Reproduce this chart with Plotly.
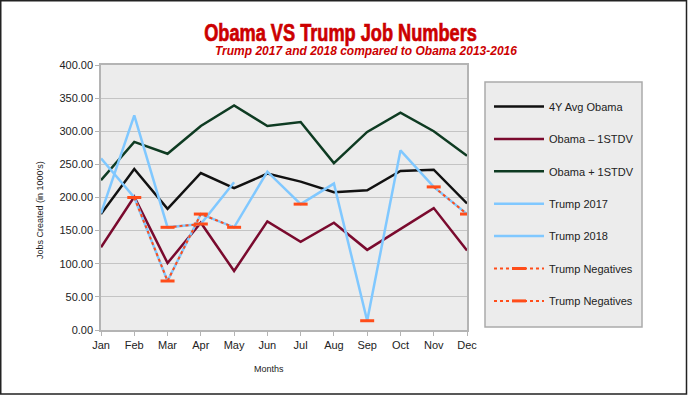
import plotly.graph_objects as go

months = ["Jan", "Feb", "Mar", "Apr", "May", "Jun", "Jul", "Aug", "Sep", "Oct", "Nov", "Dec"]
avg_obama = [175, 243, 183, 237, 214, 236, 224, 208, 211, 240, 242, 191]
obama_minus = [125, 201, 101, 162, 89, 164, 133, 162, 121, 152, 184, 120]
obama_plus = [226, 284, 266, 308, 339, 308, 314, 252, 299, 328, 300, 263]
trump_2017 = [259, 200, 74, 175, 155, 239, 190, 221, 14, 271, 216, 175]
trump_2018 = [176, 324, 155, 160, 223, None, None, None, None, None, None, None]
neg_2017 = [None, 200, 74, 175, 155, None, 190, None, 14, None, 216, 175]
neg_2018 = [None, None, 155, 160, None, None, None, None, None, None, None, None]
y_ticks = [0, 50, 100, 150, 200, 250, 300, 350, 400]

W, H = 688, 395
L, R, T, B = 101, 467, 65, 330
pw, ph = R - L, B - T

def px(x):
    return (x - L) / pw

def py(y):
    return (B - y) / ph

BLUE = "#80c8ff"
NEG = "#ff4d1a"

fig = go.Figure()
fig.add_trace(go.Scatter(x=months, y=avg_obama, name="4Y Avg Obama", mode="lines",
                         line=dict(color="#111111", width=2.5), legendgroup="a"))
fig.add_trace(go.Scatter(x=months, y=obama_minus, name="Obama \u2013 1STDV", mode="lines",
                         line=dict(color="#7a0a2e", width=2.5), legendgroup="b"))
fig.add_trace(go.Scatter(x=months, y=obama_plus, name="Obama + 1STDV", mode="lines",
                         line=dict(color="#0e3b22", width=2.5), legendgroup="c"))
fig.add_trace(go.Scatter(x=months, y=trump_2017, name="Trump 2017", mode="lines",
                         line=dict(color=BLUE, width=2.5), legendgroup="d"))
fig.add_trace(go.Scatter(x=months, y=trump_2018, name="Trump 2018", mode="lines",
                         line=dict(color=BLUE, width=2.5), legendgroup="e", connectgaps=False))
for nm, vals, g in [("Trump Negatives", neg_2017, "f"), ("Trump Negatives", neg_2018, "g")]:
    fig.add_trace(go.Scatter(x=months, y=vals, name=nm, mode="lines+markers",
                             line=dict(color=NEG, width=2, dash="dot"),
                             marker=dict(symbol="line-ew", size=10,
                                         line=dict(color=NEG, width=3)),
                             legendgroup=g, connectgaps=False))

fig.update_layout(
    width=W, height=H,
    margin=dict(l=L, r=W - R, t=T, b=H - B, autoexpand=False),
    paper_bgcolor="white",
    plot_bgcolor="#ececec",
    font=dict(family="Liberation Sans, Arial, sans-serif", size=11, color="#222222"),
    showlegend=True,
    legend=dict(x=px(489), y=py(92), xanchor="left", yanchor="top",
                bgcolor="rgba(0,0,0,0)", borderwidth=0,
                font=dict(size=11, color="#222222"), itemwidth=50,
                tracegroupgap=13.4, traceorder="grouped"),
    xaxis=dict(range=[0, 11], showgrid=False, showline=True, linecolor="#b4b4b4",
               linewidth=1.5, mirror=True, ticks="outside", ticklen=4,
               tickcolor="#b4b4b4", tickfont=dict(size=11), zeroline=False),
    yaxis=dict(range=[0, 400], tickvals=y_ticks, tickformat=".2f", showgrid=True,
               gridcolor="#c4c4c4", gridwidth=1, showline=True, linecolor="#b4b4b4",
               linewidth=1.5, mirror=True, ticks="outside", ticklen=4,
               tickcolor="#b4b4b4", tickfont=dict(size=11), zeroline=False),
)

# legend frame
fig.add_shape(type="rect", xref="paper", yref="paper",
              x0=px(485), x1=px(642), y0=py(327), y1=py(82),
              line=dict(color="#aaaaaa", width=1.5), fillcolor="#ececec", layer="below")

fig.add_annotation(text="<b>Obama VS Trump Job Numbers</b>", xref="paper", yref="paper",
                   x=px(340), y=py(33), xanchor="center", yanchor="middle", showarrow=False,
                   font=dict(family="Liberation Sans Narrow, Liberation Sans, Arial, sans-serif",
                             size=23, color="#cc0000"))
fig.add_annotation(text="<b><i>Trump 2017 and 2018 compared to Obama 2013-2016</i></b>",
                   xref="paper", yref="paper", x=px(366), y=py(51), xanchor="center",
                   yanchor="middle", showarrow=False,
                   font=dict(family="Liberation Sans, Arial, sans-serif", size=12, color="#cc0000"))
fig.add_annotation(text="Jobs Created (in 1000's)", xref="paper", yref="paper",
                   x=px(40), y=py(210), xanchor="center", yanchor="middle", textangle=-90,
                   showarrow=False, font=dict(size=9, color="#222222"))
fig.add_annotation(text="Months", xref="paper", yref="paper",
                   x=px(269), y=py(369), xanchor="center", yanchor="middle",
                   showarrow=False, font=dict(size=9, color="#222222"))
fig.add_shape(type="rect", xref="paper", yref="paper",
              x0=px(0.75), x1=px(W - 1.5), y0=py(H - 1), y1=py(0.75),
              line=dict(color="#222222", width=1.5), fillcolor="rgba(0,0,0,0)", layer="above")

post = """
document.body.style.margin='0';
var gd = document.getElementById('{plot_id}');
var ts = gd.querySelectorAll('.annotation-text');
ts.forEach(function(t){
  if (t.textContent.indexOf('Obama VS Trump') === 0) {
    var w = t.getComputedTextLength();
    var s = 273 / w;
    t.style.transformBox = 'fill-box';
    t.style.transformOrigin = 'center';
    t.style.transform = 'scaleX(' + s + ')';
    t.style.stroke = '#cc0000';
    t.style.strokeWidth = '0.7px';
  }
});
"""

fig.write_html("out.html", config={"displayModeBar": False}, post_script=post)
